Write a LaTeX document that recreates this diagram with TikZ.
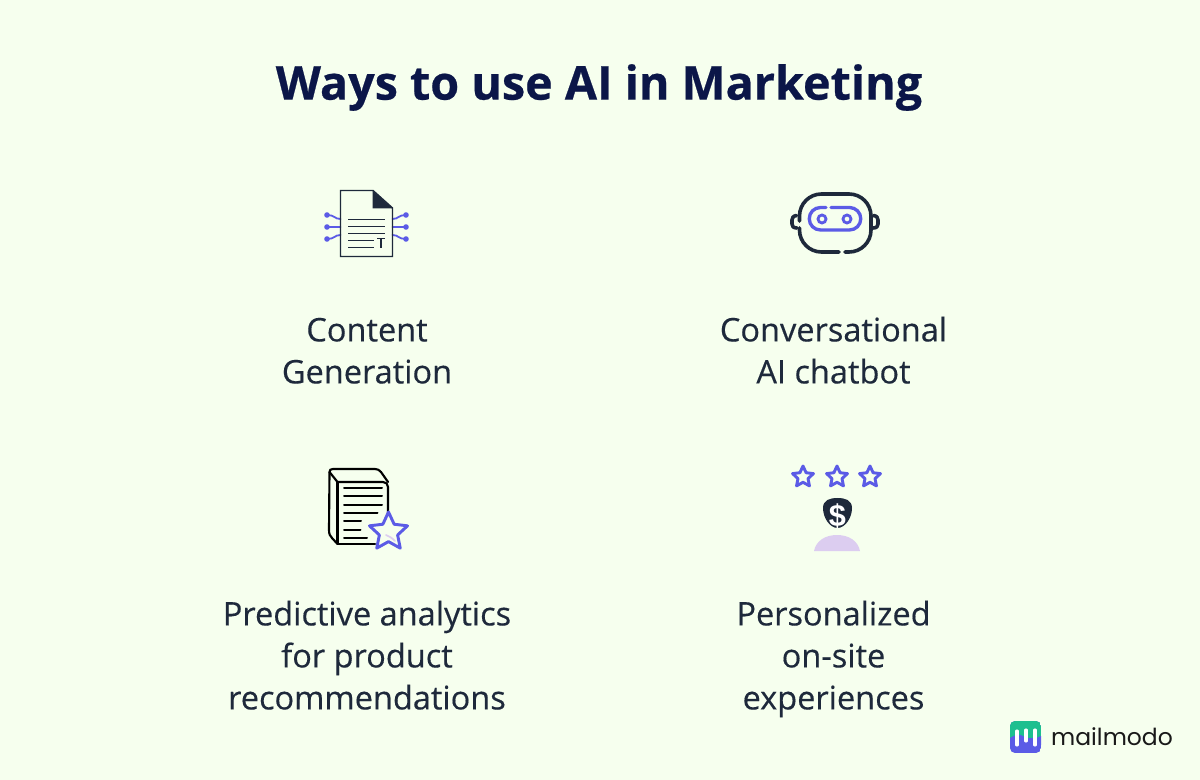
\documentclass[tikz,border=0pt]{standalone}
\usepackage{fontspec}
\setmainfont{Open Sans}
\newfontfamily\logofont{Poppins}
\newfontfamily\labfont[FakeBold=0.35]{Open Sans}
\newfontfamily\titlefont[FakeBold=0.5]{Open Sans}
\newfontfamily\dollarfont{Liberation Sans}
\definecolor{bgc}{HTML}{F6FFEE}
\definecolor{navy}{HTML}{0B1648}
\definecolor{ink}{HTML}{1E293B}
\definecolor{vio}{HTML}{5B5BE6}
\definecolor{lil}{HTML}{DCCDF0}
\definecolor{grn}{HTML}{1EBF8F}
\tikzset{
 lab/.style={align=center,text=ink,font=\labfont\fontsize{24.4}{31.5}\selectfont,inner sep=0pt},
 vline/.style={vio,line width=1.35pt,line cap=round,line join=round},
 dline/.style={ink,line width=1.1pt,line join=miter},
 bline/.style={black,line width=1.6pt,line cap=round,line join=round},
 rline/.style={ink,line width=2.7pt,line cap=round,line join=round},
 sline/.style={vio,line width=2.2pt,line join=round}
}
\newcommand{\starpath}[3]{% cx cy r
 \draw[sline,fill=bgc] ({#1+#3*cos(-90)},{#2+#3*sin(-90)})
 \foreach \a in {1,...,9}{ -- ({#1+(#3*(1-0.52*mod(\a,2)))*cos(-90+36*\a)},{#2+(#3*(1-0.52*mod(\a,2)))*sin(-90+36*\a)}) } -- cycle;}
\begin{document}
\begin{tikzpicture}[x=0.75pt,y=-0.75pt]
\useasboundingbox (0,0) rectangle (1200,780);
\fill[bgc] (0,0) rectangle (1200,780);
\node[text=navy,font=\titlefont\bfseries\fontsize{35}{40}\selectfont,inner sep=0pt] (title) at (599,87.5) {Ways to use AI in Marketing};
\node[lab] (t1) at (367,354) {\strut Content\\\strut Generation};
\node[lab] (t2) at (833.5,354) {\strut Conversational\\\strut AI chatbot};
\node[lab] (t3) at (367,659) {\strut Predictive analytics\\\strut for product\\\strut recommendations};
\node[lab] (t4) at (833.5,659) {\strut Personalized\\\strut on-site\\\strut experiences};
% icon 1
\foreach \s in {-1,1}{
 \begin{scope}[shift={(366.5,0)},xscale=\s]
 \draw[vline] (-26,227) -- (-39,227);
 \draw[vline] (-26,219) .. controls (-32,219) and (-32,215) .. (-39,215);
 \draw[vline] (-26,235) .. controls (-32,235) and (-32,239) .. (-39,239);
 \fill[vio] (-39.5,215) circle (2.8) (-39.5,227) circle (2.8) (-39.5,239) circle (2.8);
 \end{scope}}
\draw[dline] (340.5,190.5) -- (373,190.5) -- (392.5,208) -- (392.5,256.5) -- (340.5,256.5) -- cycle;
\fill[ink] (372.5,190.5) -- (392.5,208.5) -- (372.5,208.5) -- cycle;
\foreach \y/\e in {219.5/385,226.5/385,233.5/385,240.5/374,247.5/374}{\draw[ink,line width=0.9pt] (348,\y) -- (\e,\y);}
\draw[ink,line width=0.9pt] (377,238.5) -- (385,238.5) (381,238.5) -- (381,248);
% icon 2
\draw[rline] (799.5,221) -- (799.5,216) arc (180:270:22) -- (849,194) arc (270:360:22) -- (871,230) arc (0:90:22) -- (845,252);
\draw[rline] (839,252) -- (821.5,252) arc (90:180:22) -- (799.5,228);
\draw[rline] (796.5,215.5) .. controls (793,216) and (792,218) .. (792,220) -- (792,224) .. controls (792,226) and (793,228) .. (797,228);
\draw[rline] (873.5,215.5) .. controls (877,216) and (878,218) .. (878,220) -- (878,224) .. controls (878,226) and (877,228) .. (873,228);
\draw[vio,line width=2.5pt,line cap=round] (826,207.5) -- (820.5,207.5) arc (270:90:11.25) -- (849.5,230) arc (90:-90:11.25) -- (831,207.5);
\draw[vio,line width=2.1pt] (822,219) circle (4) (847,219) circle (4);
% icon 3
\draw[bline] (337.5,482) -- (383,482) .. controls (386,482) and (388,484) .. (388,487) -- (388,520);
\draw[bline] (337.5,482) -- (337.5,544) -- (375,544);
\draw[bline] (337.5,482) -- (329.5,472) .. controls (329,470) and (331,469) .. (333,469) -- (375,469) .. controls (378,469) and (379,470) .. (381,472) -- (388,482);
\draw[bline] (329.5,472) -- (329,530) .. controls (329,534) and (330,536) .. (332,538) -- (337.5,544);
\foreach \y/\e in {488/382,496.5/382,505/382,513/377.5,521/361,530/360.5,537.5/367}{\draw[black,line width=1.5pt,line cap=round] (344,\y) -- (\e,\y);}
\starpath{388.5}{532}{20}
\draw[lil,line width=1.3pt,line cap=round] (386,535) .. controls (389,536) and (392,538) .. (395,541);
% icon 4
\starpath{803}{477}{11}
\starpath{837}{477}{11}
\starpath{870}{477}{11}
\fill[ink] (837.5,498) .. controls (845,498) and (852,500) .. (852,508) .. controls (852,518) and (845,528) .. (837.5,528) .. controls (830,528) and (823,518) .. (823,508) .. controls (823,500) and (830,498) .. (837.5,498) -- cycle;
\node[text=white,font=\dollarfont\bfseries\fontsize{23}{23}\selectfont,inner sep=0pt] (dollar) at (837.5,516) {\$};
\fill[lil] (814,551) .. controls (816,541) and (825,535) .. (837,535) .. controls (849,535) and (858,541) .. (860,551) -- cycle;
% logo
\begin{scope}
\clip[rounded corners=3.75pt] (1010,721) rectangle (1041,753);
\fill[vio] (1010,721) rectangle (1041,753);
\fill[grn] (1010,721) rectangle (1041,738);
\fill[vio] (1010,738) .. controls (1016,734) and (1020,734) .. (1025,737) .. controls (1030,739) and (1036,739) .. (1041,736) -- (1041,745) -- (1010,745) -- cycle;
\end{scope}
\draw[white,line width=2.3pt,line cap=round] (1017,731) -- (1017,745) (1026,730) -- (1026,741) (1035,730) -- (1035,745);
\node[text=black!90,font=\logofont\fontsize{17.6}{20}\selectfont,inner sep=0pt] (logo) at (1112,737) {mailmodo};
\end{tikzpicture}
\end{document}
